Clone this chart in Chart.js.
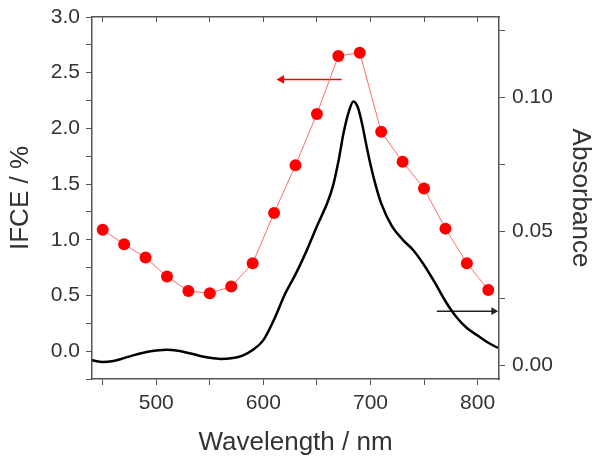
<!DOCTYPE html>
<html>
<head>
<meta charset="utf-8">
<script src="https://cdn.jsdelivr.net/npm/chart.js@4"></script>
<style>
  body { margin: 0; background: #fff; }
</style>
</head>
<body>
<canvas id="myChart" width="600" height="466"></canvas>
<script>
// IPCE measurements (left axis)
var ipceWavelengths = [450, 470, 490, 510, 530, 550, 570, 590, 610, 630, 650, 670, 690, 710, 730, 750, 770, 790, 810];
var ipceValues = [1.09, 0.96, 0.84, 0.67, 0.54, 0.52, 0.58, 0.79, 1.24, 1.67, 2.13, 2.65, 2.68, 1.97, 1.70, 1.46, 1.10, 0.79, 0.55];

// absorbance spectrum (right axis)
var absWavelengths = [440, 450, 460, 470, 480, 490, 500, 510, 520, 530, 540, 550, 560, 570, 580, 590, 600, 610, 620, 630,
  640, 650, 660, 665, 670, 675, 680, 684, 688, 692, 696, 700, 705, 710, 720, 730, 740, 750, 760, 770, 780, 790, 800, 810, 819];
var absValues = [0.0020, 0.0013, 0.0017, 0.0028, 0.0040, 0.0050, 0.0056, 0.0059, 0.0055, 0.0047, 0.0037, 0.0029, 0.0025, 0.0027,
  0.0036, 0.0058, 0.0095, 0.0172, 0.0265, 0.0340, 0.0425, 0.0520, 0.0610, 0.0670, 0.0760, 0.0870, 0.0950, 0.0985, 0.0965,
  0.0905, 0.0825, 0.0750, 0.0670, 0.0605, 0.0520, 0.0470, 0.0430, 0.0375, 0.0310, 0.0240, 0.0182, 0.0140, 0.0112, 0.0085, 0.0066];

// tick positions
var xTicks = [450, 500, 550, 600, 650, 700, 750, 800];
var ipceTicks = [-0.25, 0, 0.25, 0.5, 0.75, 1.0, 1.25, 1.5, 1.75, 2.0, 2.25, 2.5, 2.75, 3.0];
var absTicks = [0, 0.025, 0.05, 0.075, 0.10, 0.125];

// arrows showing which curve belongs to which axis
var redArrowX = [673, 617];
var redArrowY = [2.44, 2.44];
var blackArrowX = [762, 815];
var blackArrowY = [0.0203, 0.0203];

function toPoints(xs, ys) {
  return xs.map(function (x, i) { return { x: x, y: ys[i] }; });
}

function setTicks(values) {
  return function (scale) {
    scale.ticks = values.map(function (v) { return { value: v }; });
  };
}

// pin the axis boxes so the plot area lands where it does in the original
function fixSize(w, h) {
  return function (s) {
    if (w) s.width = w;
    if (h) s.height = h;
    s.paddingTop = 0; s.paddingBottom = 0;
    s.paddingLeft = 0; s.paddingRight = 0;
  };
}

Chart.defaults.font.family = 'Liberation Sans, Arial, sans-serif';
Chart.defaults.color = '#333';

var axisColor = '#555';
var gridOpts = { display: true, drawOnChartArea: false, drawTicks: true, tickLength: 6, color: axisColor, lineWidth: 1 };
var borderOpts = { display: true, color: axisColor, width: 1.5 };
var tickFont = { size: 21 };
var titleFont = { size: 26 };

var ctx = document.getElementById('myChart').getContext('2d');
var myChart = new Chart(ctx, {
  type: 'line',
  data: {
    datasets: [{
      label: 'Absorbance',
      data: toPoints(absWavelengths, absValues),
      yAxisID: 'y1',
      borderColor: '#000',
      borderWidth: 2.5,
      pointRadius: 0,
      cubicInterpolationMode: 'monotone'
    }, {
      label: 'IPCE',
      data: toPoints(ipceWavelengths, ipceValues),
      yAxisID: 'y',
      borderColor: '#ff6b6b',
      borderWidth: 1,
      pointRadius: 6,
      pointBackgroundColor: '#ff0000',
      pointBorderWidth: 0
    }, {
      label: 'arrow left',
      data: toPoints(redArrowX, redArrowY),
      yAxisID: 'y',
      borderColor: '#ff0000',
      backgroundColor: '#ff0000',
      borderWidth: 1.5,
      pointStyle: 'triangle',
      pointRotation: [0, -90],
      pointRadius: [0, 5],
      pointBorderWidth: 0
    }, {
      label: 'arrow right',
      data: toPoints(blackArrowX, blackArrowY),
      yAxisID: 'y1',
      borderColor: '#222',
      backgroundColor: '#222',
      borderWidth: 1.5,
      pointStyle: 'triangle',
      pointRotation: [0, 90],
      pointRadius: [0, 4.5],
      pointBorderWidth: 0
    }]
  },
  options: {
    responsive: false,
    animation: false,
    layout: { padding: 0 },
    plugins: {
      legend: { display: false },
      tooltip: { enabled: false }
    },
    scales: {
      x: {
        type: 'linear',
        position: 'bottom',
        min: 440,
        max: 820,
        afterBuildTicks: setTicks(xTicks),
        afterFit: fixSize(0, 87),
        ticks: {
          padding: 6,
          autoSkip: false,
          maxRotation: 0,
          font: tickFont,
          callback: function (v) { return v % 100 === 0 ? v : ''; }
        },
        grid: gridOpts,
        border: borderOpts,
        title: { display: true, text: 'Wavelength / nm', font: titleFont, padding: { top: 0, bottom: 8 } }
      },
      x2: {
        type: 'linear',
        position: 'top',
        min: 440,
        max: 820,
        afterBuildTicks: setTicks(xTicks),
        afterFit: fixSize(0, 17),
        ticks: { display: false },
        grid: { display: true, drawOnChartArea: false, drawTicks: true, tickLength: -5, color: axisColor },
        border: borderOpts
      },
      y: {
        position: 'left',
        min: -0.25,
        max: 3.0,
        afterBuildTicks: setTicks(ipceTicks),
        afterFit: fixSize(92, 0),
        ticks: {
          padding: 6,
          autoSkip: false,
          font: tickFont,
          callback: function (v) {
            var r = v * 2;
            return Math.abs(r - Math.round(r)) < 1e-6 ? v.toFixed(1) : '';
          }
        },
        grid: gridOpts,
        border: borderOpts,
        title: { display: true, text: 'IFCE / %', font: titleFont, padding: { top: 5, bottom: 0 } }
      },
      y1: {
        position: 'right',
        min: -0.005,
        max: 0.13,
        afterBuildTicks: setTicks(absTicks),
        afterFit: fixSize(101, 0),
        ticks: {
          padding: 7,
          autoSkip: false,
          font: tickFont,
          callback: function (v) {
            var r = v / 0.05;
            return Math.abs(r - Math.round(r)) < 1e-6 ? v.toFixed(2) : '';
          }
        },
        grid: gridOpts,
        border: borderOpts,
        title: { display: true, text: 'Absorbance', font: titleFont, padding: { top: 4, bottom: 0 } }
      }
    }
  }
});
</script>
</body>
</html>
